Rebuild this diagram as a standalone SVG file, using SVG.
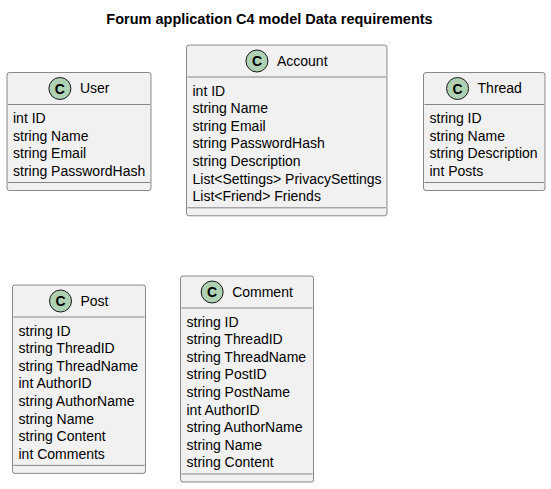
<svg xmlns="http://www.w3.org/2000/svg" width="551" height="489" viewBox="0 0 551 489">
  <style>
    .box { fill: #F1F1F1; stroke: #181818; stroke-width: 0.5; }
    .sep { stroke: #181818; stroke-width: 0.5; }
    .badge { fill: #ADD1B2; stroke: #181818; stroke-width: 1; }
    .badge-letter { font-family: "Liberation Sans", Arial, sans-serif; font-size: 14px; font-weight: bold; fill: #000000; text-anchor: middle; }
    .name { font-family: "Liberation Sans", Arial, sans-serif; font-size: 14px; fill: #000000; }
    .attr { font-family: "Liberation Sans", Arial, sans-serif; font-size: 14px; fill: #000000; }
    .title { font-family: "Liberation Sans", Arial, sans-serif; font-size: 14.5px; font-weight: bold; fill: #000000; text-anchor: middle; }
  </style>

  <rect width="551" height="489" fill="#FFFFFF"/>

  <text class="title" x="269.5" y="24">Forum application C4 model Data requirements</text>

  <g id="connectors"></g>

  <!-- User -->
  <g id="User">
    <rect class="box" x="7" y="72.5" width="144" height="118" rx="2.5" ry="2.5"/>
    <circle class="badge" cx="59.9" cy="88.5" r="11"/>
    <text class="badge-letter" x="59.9" y="93.5">C</text>
    <text class="name" x="79.9" y="93.4">User</text>
    <line class="sep" x1="8" y1="104.5" x2="150" y2="104.5"/>
    <text class="attr" x="13" y="123.1">int ID</text>
    <text class="attr" x="13" y="140.7">string Name</text>
    <text class="attr" x="13" y="158.3">string Email</text>
    <text class="attr" x="13" y="175.9">string PasswordHash</text>
    <line class="sep" x1="8" y1="182.5" x2="150" y2="182.5"/>
  </g>

  <!-- Account -->
  <g id="Account">
    <rect class="box" x="186.5" y="45" width="200.5" height="170.8" rx="2.5" ry="2.5"/>
    <circle class="badge" cx="256.95" cy="61" r="11"/>
    <text class="badge-letter" x="256.95" y="66">C</text>
    <text class="name" x="276.95" y="65.9">Account</text>
    <line class="sep" x1="187.5" y1="77" x2="386" y2="77"/>
    <text class="attr" x="192.5" y="95.6">int ID</text>
    <text class="attr" x="192.5" y="113.2">string Name</text>
    <text class="attr" x="192.5" y="130.8">string Email</text>
    <text class="attr" x="192.5" y="148.4">string PasswordHash</text>
    <text class="attr" x="192.5" y="166">string Description</text>
    <text class="attr" x="192.5" y="183.6">List&lt;Settings&gt; PrivacySettings</text>
    <text class="attr" x="192.5" y="201.2">List&lt;Friend&gt; Friends</text>
    <line class="sep" x1="187.5" y1="207.8" x2="386" y2="207.8"/>
  </g>

  <!-- Thread -->
  <g id="Thread">
    <rect class="box" x="423.5" y="72.5" width="121.5" height="118" rx="2.5" ry="2.5"/>
    <circle class="badge" cx="457.55" cy="88.5" r="11"/>
    <text class="badge-letter" x="457.55" y="93.5">C</text>
    <text class="name" x="477.55" y="93.4">Thread</text>
    <line class="sep" x1="424.5" y1="104.5" x2="544" y2="104.5"/>
    <text class="attr" x="429.5" y="123.1">string ID</text>
    <text class="attr" x="429.5" y="140.7">string Name</text>
    <text class="attr" x="429.5" y="158.3">string Description</text>
    <text class="attr" x="429.5" y="175.9">int Posts</text>
    <line class="sep" x1="424.5" y1="182.5" x2="544" y2="182.5"/>
  </g>

  <!-- Post -->
  <g id="Post">
    <rect class="box" x="12.5" y="285" width="133" height="188.4" rx="2.5" ry="2.5"/>
    <circle class="badge" cx="60.5" cy="301" r="11"/>
    <text class="badge-letter" x="60.5" y="306">C</text>
    <text class="name" x="80.5" y="305.9">Post</text>
    <line class="sep" x1="13.5" y1="317" x2="144.5" y2="317"/>
    <text class="attr" x="18.5" y="335.6">string ID</text>
    <text class="attr" x="18.5" y="353.2">string ThreadID</text>
    <text class="attr" x="18.5" y="370.8">string ThreadName</text>
    <text class="attr" x="18.5" y="388.4">int AuthorID</text>
    <text class="attr" x="18.5" y="406">string AuthorName</text>
    <text class="attr" x="18.5" y="423.6">string Name</text>
    <text class="attr" x="18.5" y="441.2">string Content</text>
    <text class="attr" x="18.5" y="458.8">int Comments</text>
    <line class="sep" x1="13.5" y1="465.4" x2="144.5" y2="465.4"/>
  </g>

  <!-- Comment -->
  <g id="Comment">
    <rect class="box" x="180.5" y="276" width="133" height="206" rx="2.5" ry="2.5"/>
    <circle class="badge" cx="212.15" cy="292" r="11"/>
    <text class="badge-letter" x="212.15" y="297">C</text>
    <text class="name" x="232.15" y="296.9">Comment</text>
    <line class="sep" x1="181.5" y1="308" x2="312.5" y2="308"/>
    <text class="attr" x="186.5" y="326.6">string ID</text>
    <text class="attr" x="186.5" y="344.2">string ThreadID</text>
    <text class="attr" x="186.5" y="361.8">string ThreadName</text>
    <text class="attr" x="186.5" y="379.4">string PostID</text>
    <text class="attr" x="186.5" y="397">string PostName</text>
    <text class="attr" x="186.5" y="414.6">int AuthorID</text>
    <text class="attr" x="186.5" y="432.2">string AuthorName</text>
    <text class="attr" x="186.5" y="449.8">string Name</text>
    <text class="attr" x="186.5" y="467.4">string Content</text>
    <line class="sep" x1="181.5" y1="474" x2="312.5" y2="474"/>
  </g>
</svg>
